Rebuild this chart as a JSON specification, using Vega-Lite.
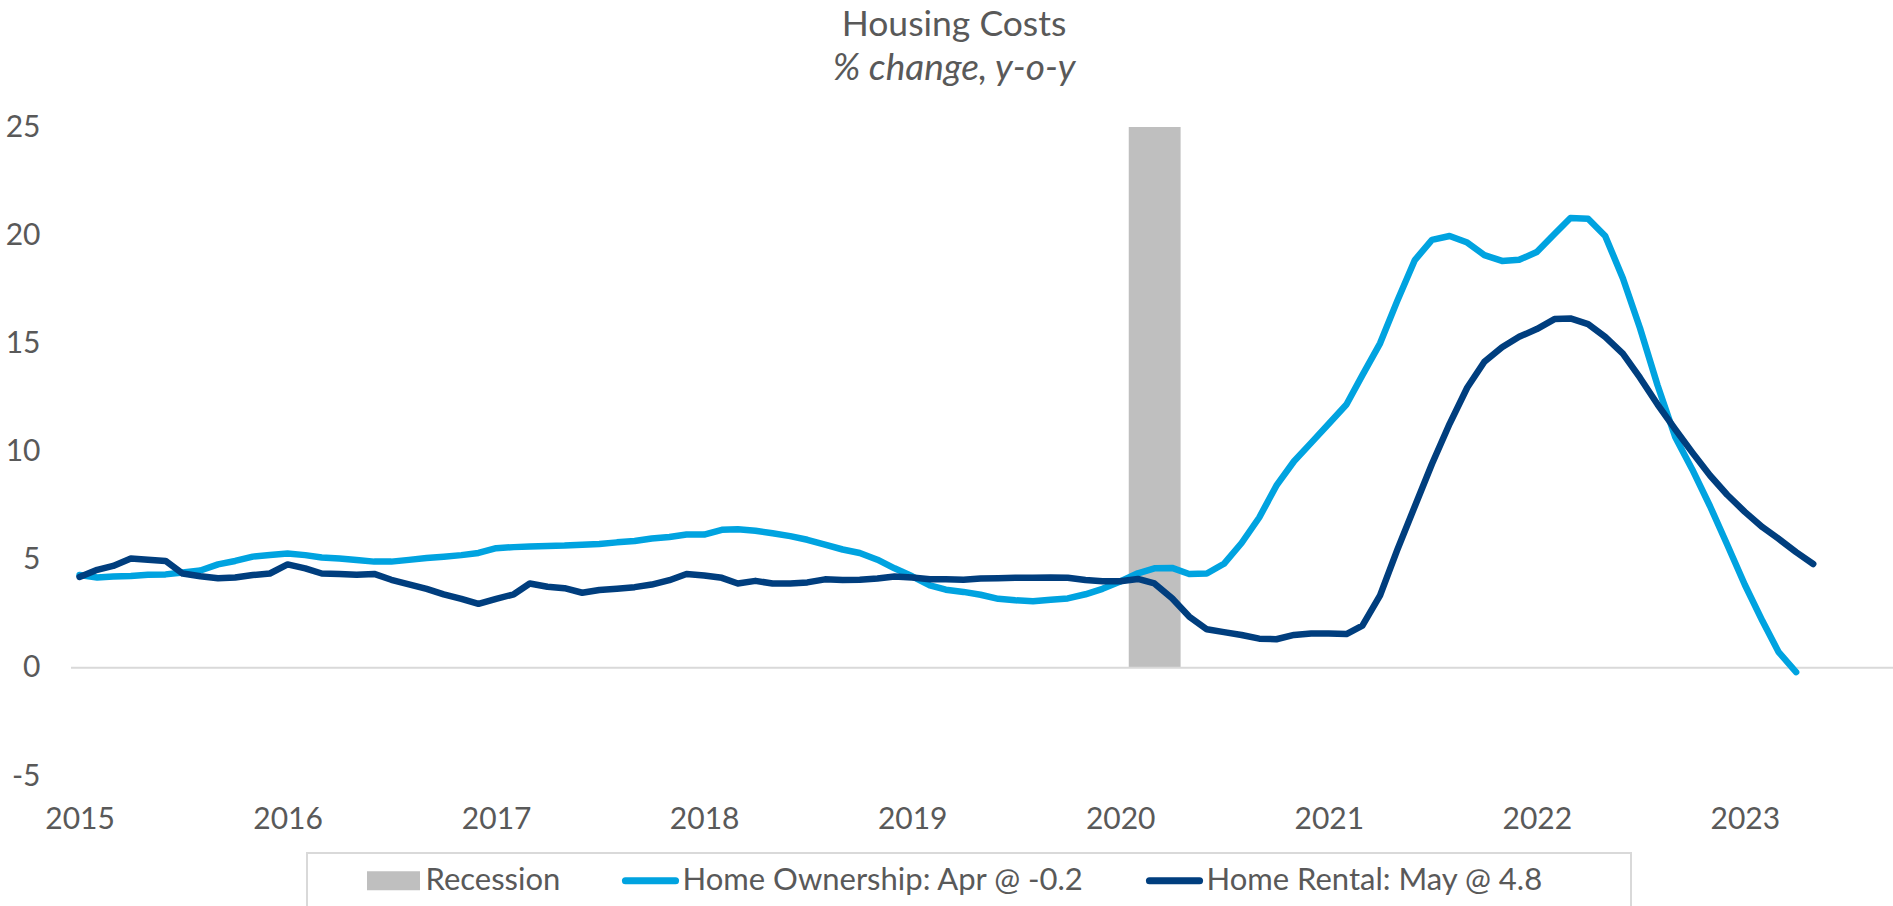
{
  "$schema": "https://vega.github.io/schema/vega-lite/v6.json",
  "width": 1822,
  "height": 649,
  "autosize": {"type": "none"},
  "padding": {"left": 71, "top": 127, "right": 0, "bottom": 130},
  "background": "white",
  "config": {"view": {"stroke": null}, "font": "Lato"},
  "title": {
    "text": "Housing Costs",
    "subtitle": "% change, y-o-y",
    "font": "Lato",
    "subtitleFont": "Lato",
    "fontSize": 35.5,
    "subtitleFontSize": 37,
    "fontWeight": "normal",
    "subtitleFontStyle": "italic",
    "color": "#595959",
    "subtitleColor": "#595959",
    "anchor": "middle",
    "dx": -28,
    "offset": 25,
    "subtitlePadding": 8
  },
  "datasets": {
    "recession": [
      {"start": "2020-01-16", "end": "2020-04-16", "label": "Recession"}
    ],
    "series": [
      {"date": "2015-01-01", "series": "Home Ownership: Apr @ -0.2", "value": 4.29},
      {"date": "2015-02-01", "series": "Home Ownership: Apr @ -0.2", "value": 4.18},
      {"date": "2015-03-01", "series": "Home Ownership: Apr @ -0.2", "value": 4.22},
      {"date": "2015-04-01", "series": "Home Ownership: Apr @ -0.2", "value": 4.25},
      {"date": "2015-05-01", "series": "Home Ownership: Apr @ -0.2", "value": 4.30},
      {"date": "2015-06-01", "series": "Home Ownership: Apr @ -0.2", "value": 4.32},
      {"date": "2015-07-01", "series": "Home Ownership: Apr @ -0.2", "value": 4.41},
      {"date": "2015-08-01", "series": "Home Ownership: Apr @ -0.2", "value": 4.50},
      {"date": "2015-09-01", "series": "Home Ownership: Apr @ -0.2", "value": 4.78},
      {"date": "2015-10-01", "series": "Home Ownership: Apr @ -0.2", "value": 4.94},
      {"date": "2015-11-01", "series": "Home Ownership: Apr @ -0.2", "value": 5.14},
      {"date": "2015-12-01", "series": "Home Ownership: Apr @ -0.2", "value": 5.22},
      {"date": "2016-01-01", "series": "Home Ownership: Apr @ -0.2", "value": 5.28},
      {"date": "2016-02-01", "series": "Home Ownership: Apr @ -0.2", "value": 5.21},
      {"date": "2016-03-01", "series": "Home Ownership: Apr @ -0.2", "value": 5.10},
      {"date": "2016-04-01", "series": "Home Ownership: Apr @ -0.2", "value": 5.05},
      {"date": "2016-05-01", "series": "Home Ownership: Apr @ -0.2", "value": 4.98},
      {"date": "2016-06-01", "series": "Home Ownership: Apr @ -0.2", "value": 4.91},
      {"date": "2016-07-01", "series": "Home Ownership: Apr @ -0.2", "value": 4.91},
      {"date": "2016-08-01", "series": "Home Ownership: Apr @ -0.2", "value": 4.99},
      {"date": "2016-09-01", "series": "Home Ownership: Apr @ -0.2", "value": 5.08},
      {"date": "2016-10-01", "series": "Home Ownership: Apr @ -0.2", "value": 5.14},
      {"date": "2016-11-01", "series": "Home Ownership: Apr @ -0.2", "value": 5.21},
      {"date": "2016-12-01", "series": "Home Ownership: Apr @ -0.2", "value": 5.31},
      {"date": "2017-01-01", "series": "Home Ownership: Apr @ -0.2", "value": 5.53},
      {"date": "2017-02-01", "series": "Home Ownership: Apr @ -0.2", "value": 5.58},
      {"date": "2017-03-01", "series": "Home Ownership: Apr @ -0.2", "value": 5.61},
      {"date": "2017-04-01", "series": "Home Ownership: Apr @ -0.2", "value": 5.63},
      {"date": "2017-05-01", "series": "Home Ownership: Apr @ -0.2", "value": 5.65},
      {"date": "2017-06-01", "series": "Home Ownership: Apr @ -0.2", "value": 5.69},
      {"date": "2017-07-01", "series": "Home Ownership: Apr @ -0.2", "value": 5.72},
      {"date": "2017-08-01", "series": "Home Ownership: Apr @ -0.2", "value": 5.80},
      {"date": "2017-09-01", "series": "Home Ownership: Apr @ -0.2", "value": 5.86},
      {"date": "2017-10-01", "series": "Home Ownership: Apr @ -0.2", "value": 5.98},
      {"date": "2017-11-01", "series": "Home Ownership: Apr @ -0.2", "value": 6.05},
      {"date": "2017-12-01", "series": "Home Ownership: Apr @ -0.2", "value": 6.16},
      {"date": "2018-01-01", "series": "Home Ownership: Apr @ -0.2", "value": 6.16},
      {"date": "2018-02-01", "series": "Home Ownership: Apr @ -0.2", "value": 6.38},
      {"date": "2018-03-01", "series": "Home Ownership: Apr @ -0.2", "value": 6.41},
      {"date": "2018-04-01", "series": "Home Ownership: Apr @ -0.2", "value": 6.34},
      {"date": "2018-05-01", "series": "Home Ownership: Apr @ -0.2", "value": 6.22},
      {"date": "2018-06-01", "series": "Home Ownership: Apr @ -0.2", "value": 6.09},
      {"date": "2018-07-01", "series": "Home Ownership: Apr @ -0.2", "value": 5.92},
      {"date": "2018-08-01", "series": "Home Ownership: Apr @ -0.2", "value": 5.70},
      {"date": "2018-09-01", "series": "Home Ownership: Apr @ -0.2", "value": 5.47},
      {"date": "2018-10-01", "series": "Home Ownership: Apr @ -0.2", "value": 5.31},
      {"date": "2018-11-01", "series": "Home Ownership: Apr @ -0.2", "value": 5.00},
      {"date": "2018-12-01", "series": "Home Ownership: Apr @ -0.2", "value": 4.60},
      {"date": "2019-01-01", "series": "Home Ownership: Apr @ -0.2", "value": 4.23},
      {"date": "2019-02-01", "series": "Home Ownership: Apr @ -0.2", "value": 3.81},
      {"date": "2019-03-01", "series": "Home Ownership: Apr @ -0.2", "value": 3.61},
      {"date": "2019-04-01", "series": "Home Ownership: Apr @ -0.2", "value": 3.51},
      {"date": "2019-05-01", "series": "Home Ownership: Apr @ -0.2", "value": 3.38},
      {"date": "2019-06-01", "series": "Home Ownership: Apr @ -0.2", "value": 3.19},
      {"date": "2019-07-01", "series": "Home Ownership: Apr @ -0.2", "value": 3.12},
      {"date": "2019-08-01", "series": "Home Ownership: Apr @ -0.2", "value": 3.08},
      {"date": "2019-09-01", "series": "Home Ownership: Apr @ -0.2", "value": 3.15},
      {"date": "2019-10-01", "series": "Home Ownership: Apr @ -0.2", "value": 3.21},
      {"date": "2019-11-01", "series": "Home Ownership: Apr @ -0.2", "value": 3.40},
      {"date": "2019-12-01", "series": "Home Ownership: Apr @ -0.2", "value": 3.65},
      {"date": "2020-01-01", "series": "Home Ownership: Apr @ -0.2", "value": 3.99},
      {"date": "2020-02-01", "series": "Home Ownership: Apr @ -0.2", "value": 4.37},
      {"date": "2020-03-01", "series": "Home Ownership: Apr @ -0.2", "value": 4.60},
      {"date": "2020-04-01", "series": "Home Ownership: Apr @ -0.2", "value": 4.62},
      {"date": "2020-05-01", "series": "Home Ownership: Apr @ -0.2", "value": 4.34},
      {"date": "2020-06-01", "series": "Home Ownership: Apr @ -0.2", "value": 4.36},
      {"date": "2020-07-01", "series": "Home Ownership: Apr @ -0.2", "value": 4.81},
      {"date": "2020-08-01", "series": "Home Ownership: Apr @ -0.2", "value": 5.77},
      {"date": "2020-09-01", "series": "Home Ownership: Apr @ -0.2", "value": 6.95},
      {"date": "2020-10-01", "series": "Home Ownership: Apr @ -0.2", "value": 8.42},
      {"date": "2020-11-01", "series": "Home Ownership: Apr @ -0.2", "value": 9.55},
      {"date": "2020-12-01", "series": "Home Ownership: Apr @ -0.2", "value": 10.40},
      {"date": "2021-01-01", "series": "Home Ownership: Apr @ -0.2", "value": 11.28},
      {"date": "2021-02-01", "series": "Home Ownership: Apr @ -0.2", "value": 12.17},
      {"date": "2021-03-01", "series": "Home Ownership: Apr @ -0.2", "value": 13.53},
      {"date": "2021-04-01", "series": "Home Ownership: Apr @ -0.2", "value": 15.00},
      {"date": "2021-05-01", "series": "Home Ownership: Apr @ -0.2", "value": 16.95},
      {"date": "2021-06-01", "series": "Home Ownership: Apr @ -0.2", "value": 18.85},
      {"date": "2021-07-01", "series": "Home Ownership: Apr @ -0.2", "value": 19.78},
      {"date": "2021-08-01", "series": "Home Ownership: Apr @ -0.2", "value": 19.96},
      {"date": "2021-09-01", "series": "Home Ownership: Apr @ -0.2", "value": 19.66},
      {"date": "2021-10-01", "series": "Home Ownership: Apr @ -0.2", "value": 19.08},
      {"date": "2021-11-01", "series": "Home Ownership: Apr @ -0.2", "value": 18.81},
      {"date": "2021-12-01", "series": "Home Ownership: Apr @ -0.2", "value": 18.86},
      {"date": "2022-01-01", "series": "Home Ownership: Apr @ -0.2", "value": 19.22},
      {"date": "2022-02-01", "series": "Home Ownership: Apr @ -0.2", "value": 20.05},
      {"date": "2022-03-01", "series": "Home Ownership: Apr @ -0.2", "value": 20.79},
      {"date": "2022-04-01", "series": "Home Ownership: Apr @ -0.2", "value": 20.76},
      {"date": "2022-05-01", "series": "Home Ownership: Apr @ -0.2", "value": 19.96},
      {"date": "2022-06-01", "series": "Home Ownership: Apr @ -0.2", "value": 18.01},
      {"date": "2022-07-01", "series": "Home Ownership: Apr @ -0.2", "value": 15.71},
      {"date": "2022-08-01", "series": "Home Ownership: Apr @ -0.2", "value": 13.05},
      {"date": "2022-09-01", "series": "Home Ownership: Apr @ -0.2", "value": 10.66},
      {"date": "2022-10-01", "series": "Home Ownership: Apr @ -0.2", "value": 9.16},
      {"date": "2022-11-01", "series": "Home Ownership: Apr @ -0.2", "value": 7.47},
      {"date": "2022-12-01", "series": "Home Ownership: Apr @ -0.2", "value": 5.70},
      {"date": "2023-01-01", "series": "Home Ownership: Apr @ -0.2", "value": 3.84},
      {"date": "2023-02-01", "series": "Home Ownership: Apr @ -0.2", "value": 2.16},
      {"date": "2023-03-01", "series": "Home Ownership: Apr @ -0.2", "value": 0.74},
      {"date": "2023-04-01", "series": "Home Ownership: Apr @ -0.2", "value": -0.2},
      {"date": "2015-01-01", "series": "Home Rental: May @ 4.8", "value": 4.20},
      {"date": "2015-02-01", "series": "Home Rental: May @ 4.8", "value": 4.53},
      {"date": "2015-03-01", "series": "Home Rental: May @ 4.8", "value": 4.71},
      {"date": "2015-04-01", "series": "Home Rental: May @ 4.8", "value": 5.05},
      {"date": "2015-05-01", "series": "Home Rental: May @ 4.8", "value": 5.00},
      {"date": "2015-06-01", "series": "Home Rental: May @ 4.8", "value": 4.94},
      {"date": "2015-07-01", "series": "Home Rental: May @ 4.8", "value": 4.36},
      {"date": "2015-08-01", "series": "Home Rental: May @ 4.8", "value": 4.23},
      {"date": "2015-09-01", "series": "Home Rental: May @ 4.8", "value": 4.14},
      {"date": "2015-10-01", "series": "Home Rental: May @ 4.8", "value": 4.18},
      {"date": "2015-11-01", "series": "Home Rental: May @ 4.8", "value": 4.29},
      {"date": "2015-12-01", "series": "Home Rental: May @ 4.8", "value": 4.36},
      {"date": "2016-01-01", "series": "Home Rental: May @ 4.8", "value": 4.78},
      {"date": "2016-02-01", "series": "Home Rental: May @ 4.8", "value": 4.60},
      {"date": "2016-03-01", "series": "Home Rental: May @ 4.8", "value": 4.36},
      {"date": "2016-04-01", "series": "Home Rental: May @ 4.8", "value": 4.34},
      {"date": "2016-05-01", "series": "Home Rental: May @ 4.8", "value": 4.30},
      {"date": "2016-06-01", "series": "Home Rental: May @ 4.8", "value": 4.34},
      {"date": "2016-07-01", "series": "Home Rental: May @ 4.8", "value": 4.07},
      {"date": "2016-08-01", "series": "Home Rental: May @ 4.8", "value": 3.86},
      {"date": "2016-09-01", "series": "Home Rental: May @ 4.8", "value": 3.65},
      {"date": "2016-10-01", "series": "Home Rental: May @ 4.8", "value": 3.40},
      {"date": "2016-11-01", "series": "Home Rental: May @ 4.8", "value": 3.19},
      {"date": "2016-12-01", "series": "Home Rental: May @ 4.8", "value": 2.96},
      {"date": "2017-01-01", "series": "Home Rental: May @ 4.8", "value": 3.19},
      {"date": "2017-02-01", "series": "Home Rental: May @ 4.8", "value": 3.40},
      {"date": "2017-03-01", "series": "Home Rental: May @ 4.8", "value": 3.90},
      {"date": "2017-04-01", "series": "Home Rental: May @ 4.8", "value": 3.75},
      {"date": "2017-05-01", "series": "Home Rental: May @ 4.8", "value": 3.68},
      {"date": "2017-06-01", "series": "Home Rental: May @ 4.8", "value": 3.47},
      {"date": "2017-07-01", "series": "Home Rental: May @ 4.8", "value": 3.60},
      {"date": "2017-08-01", "series": "Home Rental: May @ 4.8", "value": 3.66},
      {"date": "2017-09-01", "series": "Home Rental: May @ 4.8", "value": 3.73},
      {"date": "2017-10-01", "series": "Home Rental: May @ 4.8", "value": 3.85},
      {"date": "2017-11-01", "series": "Home Rental: May @ 4.8", "value": 4.05},
      {"date": "2017-12-01", "series": "Home Rental: May @ 4.8", "value": 4.34},
      {"date": "2018-01-01", "series": "Home Rental: May @ 4.8", "value": 4.27},
      {"date": "2018-02-01", "series": "Home Rental: May @ 4.8", "value": 4.16},
      {"date": "2018-03-01", "series": "Home Rental: May @ 4.8", "value": 3.90},
      {"date": "2018-04-01", "series": "Home Rental: May @ 4.8", "value": 4.02},
      {"date": "2018-05-01", "series": "Home Rental: May @ 4.8", "value": 3.90},
      {"date": "2018-06-01", "series": "Home Rental: May @ 4.8", "value": 3.90},
      {"date": "2018-07-01", "series": "Home Rental: May @ 4.8", "value": 3.95},
      {"date": "2018-08-01", "series": "Home Rental: May @ 4.8", "value": 4.09},
      {"date": "2018-09-01", "series": "Home Rental: May @ 4.8", "value": 4.06},
      {"date": "2018-10-01", "series": "Home Rental: May @ 4.8", "value": 4.07},
      {"date": "2018-11-01", "series": "Home Rental: May @ 4.8", "value": 4.13},
      {"date": "2018-12-01", "series": "Home Rental: May @ 4.8", "value": 4.22},
      {"date": "2019-01-01", "series": "Home Rental: May @ 4.8", "value": 4.18},
      {"date": "2019-02-01", "series": "Home Rental: May @ 4.8", "value": 4.09},
      {"date": "2019-03-01", "series": "Home Rental: May @ 4.8", "value": 4.09},
      {"date": "2019-04-01", "series": "Home Rental: May @ 4.8", "value": 4.07},
      {"date": "2019-05-01", "series": "Home Rental: May @ 4.8", "value": 4.13},
      {"date": "2019-06-01", "series": "Home Rental: May @ 4.8", "value": 4.14},
      {"date": "2019-07-01", "series": "Home Rental: May @ 4.8", "value": 4.16},
      {"date": "2019-08-01", "series": "Home Rental: May @ 4.8", "value": 4.16},
      {"date": "2019-09-01", "series": "Home Rental: May @ 4.8", "value": 4.18},
      {"date": "2019-10-01", "series": "Home Rental: May @ 4.8", "value": 4.16},
      {"date": "2019-11-01", "series": "Home Rental: May @ 4.8", "value": 4.06},
      {"date": "2019-12-01", "series": "Home Rental: May @ 4.8", "value": 4.00},
      {"date": "2020-01-01", "series": "Home Rental: May @ 4.8", "value": 4.00},
      {"date": "2020-02-01", "series": "Home Rental: May @ 4.8", "value": 4.11},
      {"date": "2020-03-01", "series": "Home Rental: May @ 4.8", "value": 3.90},
      {"date": "2020-04-01", "series": "Home Rental: May @ 4.8", "value": 3.22},
      {"date": "2020-05-01", "series": "Home Rental: May @ 4.8", "value": 2.37},
      {"date": "2020-06-01", "series": "Home Rental: May @ 4.8", "value": 1.78},
      {"date": "2020-07-01", "series": "Home Rental: May @ 4.8", "value": 1.65},
      {"date": "2020-08-01", "series": "Home Rental: May @ 4.8", "value": 1.52},
      {"date": "2020-09-01", "series": "Home Rental: May @ 4.8", "value": 1.35},
      {"date": "2020-10-01", "series": "Home Rental: May @ 4.8", "value": 1.32},
      {"date": "2020-11-01", "series": "Home Rental: May @ 4.8", "value": 1.52},
      {"date": "2020-12-01", "series": "Home Rental: May @ 4.8", "value": 1.59},
      {"date": "2021-01-01", "series": "Home Rental: May @ 4.8", "value": 1.59},
      {"date": "2021-02-01", "series": "Home Rental: May @ 4.8", "value": 1.56},
      {"date": "2021-03-01", "series": "Home Rental: May @ 4.8", "value": 1.95},
      {"date": "2021-04-01", "series": "Home Rental: May @ 4.8", "value": 3.35},
      {"date": "2021-05-01", "series": "Home Rental: May @ 4.8", "value": 5.44},
      {"date": "2021-06-01", "series": "Home Rental: May @ 4.8", "value": 7.47},
      {"date": "2021-07-01", "series": "Home Rental: May @ 4.8", "value": 9.42},
      {"date": "2021-08-01", "series": "Home Rental: May @ 4.8", "value": 11.28},
      {"date": "2021-09-01", "series": "Home Rental: May @ 4.8", "value": 12.96},
      {"date": "2021-10-01", "series": "Home Rental: May @ 4.8", "value": 14.15},
      {"date": "2021-11-01", "series": "Home Rental: May @ 4.8", "value": 14.82},
      {"date": "2021-12-01", "series": "Home Rental: May @ 4.8", "value": 15.30},
      {"date": "2022-01-01", "series": "Home Rental: May @ 4.8", "value": 15.66},
      {"date": "2022-02-01", "series": "Home Rental: May @ 4.8", "value": 16.12},
      {"date": "2022-03-01", "series": "Home Rental: May @ 4.8", "value": 16.15},
      {"date": "2022-04-01", "series": "Home Rental: May @ 4.8", "value": 15.89},
      {"date": "2022-05-01", "series": "Home Rental: May @ 4.8", "value": 15.30},
      {"date": "2022-06-01", "series": "Home Rental: May @ 4.8", "value": 14.52},
      {"date": "2022-07-01", "series": "Home Rental: May @ 4.8", "value": 13.41},
      {"date": "2022-08-01", "series": "Home Rental: May @ 4.8", "value": 12.17},
      {"date": "2022-09-01", "series": "Home Rental: May @ 4.8", "value": 11.02},
      {"date": "2022-10-01", "series": "Home Rental: May @ 4.8", "value": 9.95},
      {"date": "2022-11-01", "series": "Home Rental: May @ 4.8", "value": 8.89},
      {"date": "2022-12-01", "series": "Home Rental: May @ 4.8", "value": 8.00},
      {"date": "2023-01-01", "series": "Home Rental: May @ 4.8", "value": 7.21},
      {"date": "2023-02-01", "series": "Home Rental: May @ 4.8", "value": 6.50},
      {"date": "2023-03-01", "series": "Home Rental: May @ 4.8", "value": 5.97},
      {"date": "2023-04-01", "series": "Home Rental: May @ 4.8", "value": 5.35},
      {"date": "2023-05-01", "series": "Home Rental: May @ 4.8", "value": 4.8}
    ]
  },
  "layer": [
    {
      "data": {"name": "recession"},
      "mark": {"type": "rect"},
      "encoding": {
        "x": {
          "field": "start",
          "type": "temporal",
          "scale": {
            "type": "utc",
            "domain": [
              {"year": 2014, "month": 12, "date": 17, "utc": true},
              {"year": 2023, "month": 9, "date": 18, "utc": true}
            ]
          },
          "axis": {
            "title": null,
            "values": [
              {"year": 2015, "month": 1, "date": 1, "utc": true},
              {"year": 2016, "month": 1, "date": 1, "utc": true},
              {"year": 2017, "month": 1, "date": 1, "utc": true},
              {"year": 2018, "month": 1, "date": 1, "utc": true},
              {"year": 2019, "month": 1, "date": 1, "utc": true},
              {"year": 2020, "month": 1, "date": 1, "utc": true},
              {"year": 2021, "month": 1, "date": 1, "utc": true},
              {"year": 2022, "month": 1, "date": 1, "utc": true},
              {"year": 2023, "month": 1, "date": 1, "utc": true}
            ],
            "format": "%Y",
            "grid": false,
            "domain": false,
            "ticks": false,
            "tickSize": 0,
            "labelPadding": 28,
            "labelFont": "Lato",
            "labelFontSize": 30,
            "labelColor": "#595959",
            "labelFlush": false,
            "labelOverlap": false
          }
        },
        "x2": {"field": "end"},
        "y": {
          "datum": 25,
          "type": "quantitative",
          "scale": {"domain": [-5, 25], "nice": false, "zero": false},
          "axis": {
            "title": null,
            "values": [-5, 0, 5, 10, 15, 20, 25],
            "labelExpr": "'' + datum.value",
            "grid": false,
            "domain": false,
            "ticks": false,
            "tickSize": 0,
            "labelPadding": 31,
            "labelFont": "Lato",
            "labelFontSize": 30,
            "labelColor": "#595959"
          }
        },
        "y2": {"datum": 0},
        "color": {
          "field": "label",
          "type": "nominal",
          "scale": {
            "domain": ["Recession", "Home Ownership: Apr @ -0.2", "Home Rental: May @ 4.8"],
            "range": ["#bfbfbf", "#00a3e0", "#003e7e"]
          },
          "legend": {
            "title": " ",
            "titleOrient": "left",
            "titleFontSize": 1,
            "titlePadding": 59,
            "orient": "none",
            "legendX": 236,
            "legendY": 726,
            "direction": "horizontal",
            "symbolSize": 3249,
            "labelFont": "Lato",
            "labelFontSize": 31,
            "labelColor": "#595959",
            "labelLimit": 1000,
            "labelOffset": 16.5,
            "columnPadding": 50,
            "padding": 12,
            "strokeColor": "#d9d9d9",
            "encode": {
              "legend": {"update": {"strokeWidth": {"value": 2}}},
              "symbols": {
                "update": {
                  "shape": {"signal": "datum.value === 'Recession' ? 'M-0.93,-0.333H0.93V0.333H-0.93Z' : (datum.value === 'Home Rental: May @ 4.8' ? 'M-0.88,0H0.88M15.1,0' : 'M-0.88,0H0.88')"},
                  "fill": {"signal": "datum.value === 'Recession' ? '#bfbfbf' : 'transparent'"},
                  "stroke": {"signal": "datum.value === 'Recession' ? 'transparent' : (datum.value === 'Home Rental: May @ 4.8' ? '#003e7e' : '#00a3e0')"},
                  "strokeWidth": {"signal": "datum.value === 'Recession' ? 0 : 7"},
                  "strokeCap": {"value": "round"},
                  "opacity": {"value": 1}
                }
              }
            }
          }
        }
      }
    },
    {
      "data": {"values": [{}]},
      "mark": {"type": "rule", "color": "#d9d9d9", "strokeWidth": 2},
      "encoding": {"y": {"datum": 0, "type": "quantitative"}}
    },
    {
      "data": {"name": "series"},
      "transform": [{"filter": "datum.series === 'Home Ownership: Apr @ -0.2'"}],
      "mark": {"type": "line", "strokeWidth": 6.5, "strokeJoin": "round", "strokeCap": "round"},
      "encoding": {
        "x": {"field": "date", "type": "temporal"},
        "y": {"field": "value", "type": "quantitative"},
        "color": {"field": "series", "type": "nominal"}
      }
    },
    {
      "data": {"name": "series"},
      "transform": [{"filter": "datum.series === 'Home Rental: May @ 4.8'"}],
      "mark": {"type": "line", "strokeWidth": 6.5, "strokeJoin": "round", "strokeCap": "round"},
      "encoding": {
        "x": {"field": "date", "type": "temporal"},
        "y": {"field": "value", "type": "quantitative"},
        "color": {"field": "series", "type": "nominal"}
      }
    }
  ]
}
